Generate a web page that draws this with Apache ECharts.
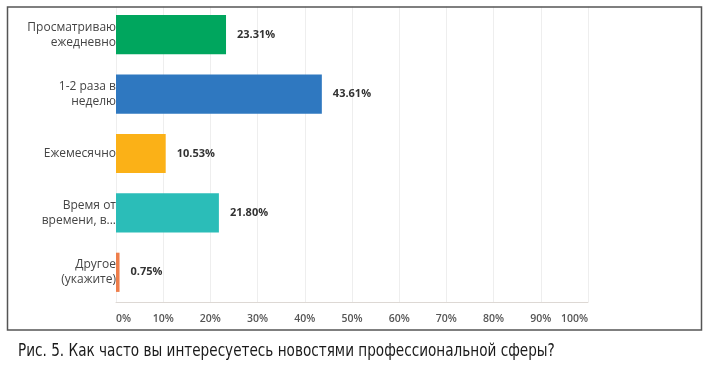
<!DOCTYPE html>
<html>
<head>
<meta charset="utf-8">
<script src="https://cdn.jsdelivr.net/npm/echarts@6/dist/echarts.min.js"></script>
<style>
  html, body { margin: 0; padding: 0; background: #fff; }
  #chart { width: 707px; height: 371px; }
</style>
</head>
<body>
<div id="chart"></div>
<script>
// данные опроса
var categories = ['Просматриваю\nежедневно', '1-2 раза в\nнеделю', 'Ежемесячно', 'Время от\nвремени, в...', 'Другое\n(укажите)'];
var values = [23.31, 43.61, 10.53, 21.80, 0.75];
var barColors = ['#00a65e', '#2f78c0', '#fbb117', '#2bbdb8', '#ee7e4b'];
var xTicks = [0, 10, 20, 30, 40, 50, 60, 70, 80, 90, 100];
var caption = 'Рис. 5. Как часто вы интересуетесь новостями профессиональной сферы?';

var chart = echarts.init(document.getElementById('chart'));

var option = {
    backgroundColor: '#fff',
    animation: false,
    textStyle: { fontFamily: 'Open Sans' },
    grid: { left: 116, right: 119, top: 5, bottom: 69, containLabel: false },
    graphic: [
        {
            // закрываем сетку над рамкой
            type: 'rect',
            shape: { x: 0, y: 0, width: 707, height: 6.5 },
            style: { fill: '#fff' },
            z: 100
        },
        {
            type: 'rect',
            shape: { x: 7.5, y: 7, width: 694, height: 323 },
            style: { fill: null, stroke: '#555', lineWidth: 1.5 },
            z: 101
        },
        {
            type: 'text',
            x: 18,
            y: 343,
            scaleX: 0.89,
            style: {
                text: caption,
                font: '17px "Liberation Sans Narrow", "DejaVu Sans Condensed", "Roboto", sans-serif',
                fill: '#1a1a1a'
            },
            z: 101
        }
    ],
    xAxis: {
        type: 'value',
        min: xTicks[0],
        max: xTicks[xTicks.length - 1],
        interval: 10,
        axisLine: { show: true, lineStyle: { color: '#ddd8d4', width: 1 } },
        axisTick: { show: false },
        splitLine: { show: true, lineStyle: { color: '#eeeeee' } },
        axisLabel: {
            margin: 12,
            color: '#555',
            fontSize: 10.5,
            fontWeight: 600,
            alignMinLabel: 'left',
            alignMaxLabel: 'right',
            formatter: function (v) { return v + '%'; }
        }
    },
    yAxis: {
        type: 'category',
        inverse: true,
        data: categories,
        axisLine: { show: false },
        axisTick: { show: false },
        axisLabel: {
            margin: 0,
            color: '#444',
            fontSize: 12,
            fontWeight: 500,
            lineHeight: 15,
            align: 'right'
        }
    },
    series: [{
        type: 'bar',
        barWidth: '66%',
        data: values.map(function (v, i) {
            return { value: v, itemStyle: { color: barColors[i] } };
        }),
        label: {
            show: true,
            position: 'right',
            distance: 11,
            color: '#333',
            fontSize: 11,
            fontWeight: 700,
            formatter: function (p) { return p.value.toFixed(2) + '%'; }
        }
    }]
};

chart.setOption(option);
</script>
</body>
</html>
